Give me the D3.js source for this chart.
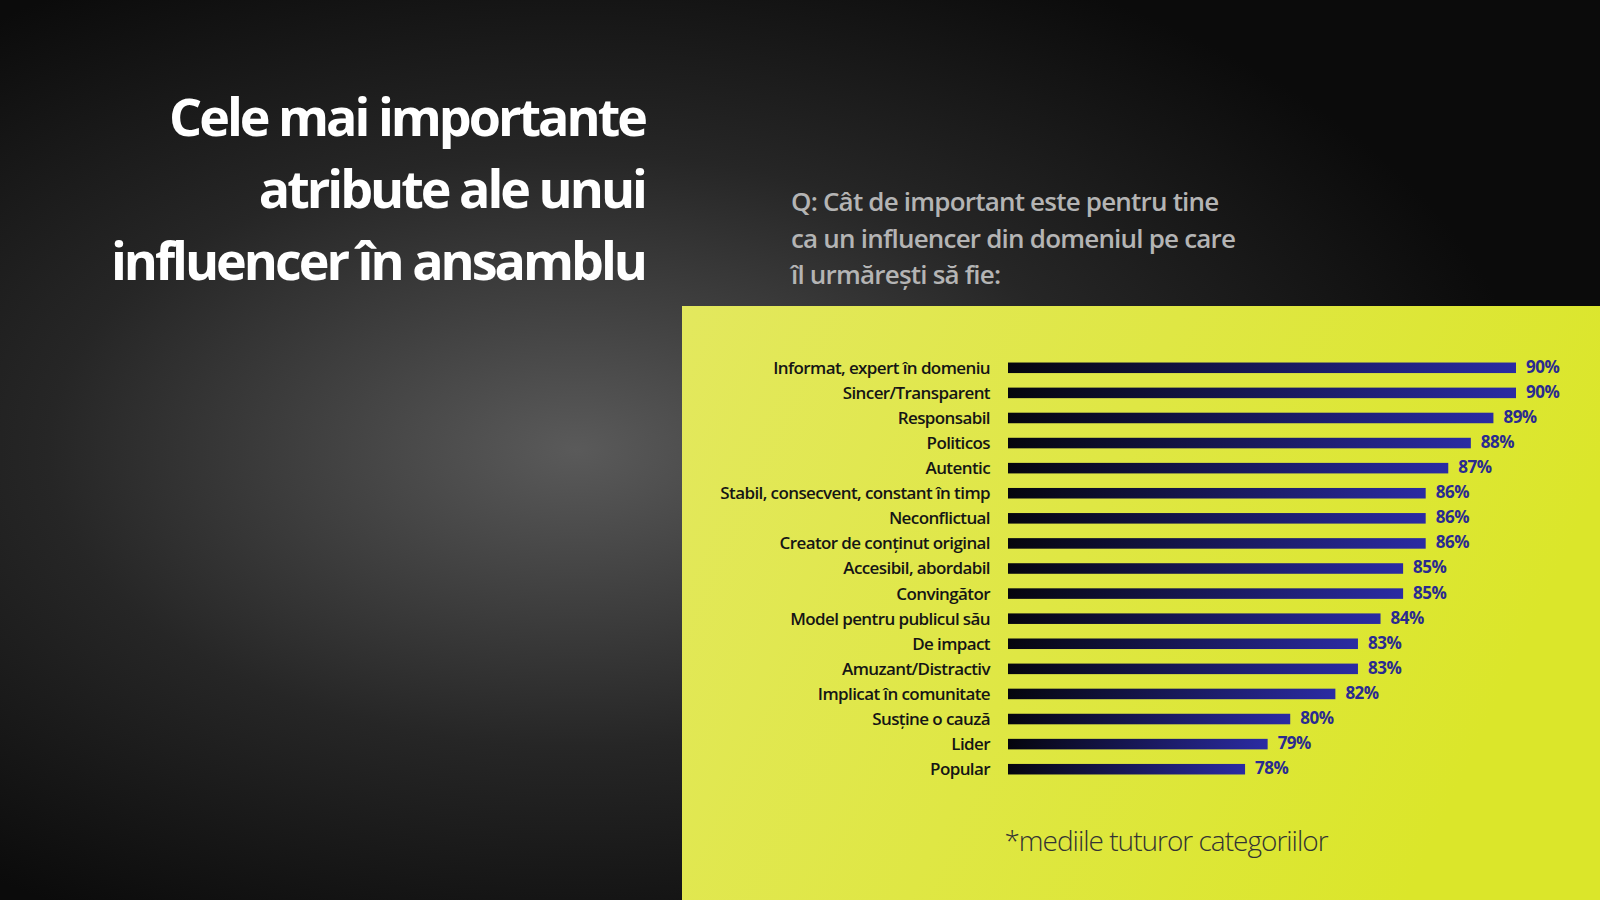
<!DOCTYPE html>
<html lang="ro">
<head>
<meta charset="utf-8">
<script src="https://d3js.org/d3.v7.min.js"></script>
<style>
  body { margin: 0; background: #111; overflow: hidden; }
  text { font-family: "Open Sans", "Noto Sans", sans-serif; }
</style>
</head>
<body>
<script>
var w = 1600, h = 900;

// data
var attributes = ["Informat, expert în domeniu", "Sincer/Transparent", "Responsabil", "Politicos",
  "Autentic", "Stabil, consecvent, constant în timp", "Neconflictual", "Creator de conținut original",
  "Accesibil, abordabil", "Convingător", "Model pentru publicul său", "De impact",
  "Amuzant/Distractiv", "Implicat în comunitate", "Susține o cauză", "Lider", "Popular"];
var values = [90, 90, 89, 88, 87, 86, 86, 86, 85, 85, 84, 83, 83, 82, 80, 79, 78];
var titleLines = ["Cele mai importante", "atribute ale unui", "influencer în ansamblu"];
var questionLines = ["Q: Cât de important este pentru tine", "ca un influencer din domeniul pe care", "îl urmărești să fie:"];

var svg = d3.select("body").append("svg").attr("width", w).attr("height", h);
var defs = svg.append("defs");

var bg = defs.append("radialGradient").attr("id", "bg")
  .attr("cx", 0.36).attr("cy", 0.5).attr("r", 0.6);
bg.append("stop").attr("offset", "0%").attr("stop-color", "#5a5a5a");
bg.append("stop").attr("offset", "55%").attr("stop-color", "#262626");
bg.append("stop").attr("offset", "100%").attr("stop-color", "#0b0b0b");

var yel = defs.append("linearGradient").attr("id", "yel").attr("x1", 0).attr("x2", 1).attr("y1", 0).attr("y2", 0.3);
yel.append("stop").attr("offset", "0%").attr("stop-color", "#e3e85e");
yel.append("stop").attr("offset", "100%").attr("stop-color", "#dbe62a");

var barG = defs.append("linearGradient").attr("id", "barG");
barG.append("stop").attr("offset", "0%").attr("stop-color", "#05050d");
barG.append("stop").attr("offset", "100%").attr("stop-color", "#2b2ba3");

svg.append("rect").attr("width", w).attr("height", h).attr("fill", "url(#bg)");
svg.append("rect").attr("x", 682).attr("y", 306).attr("width", w - 682).attr("height", h - 306).attr("fill", "url(#yel)");

// title
svg.append("g").selectAll("text").data(titleLines).join("text")
  .attr("x", 645).attr("y", function(d, i) { return 136 + i * 72; })
  .attr("text-anchor", "end").attr("fill", "#fff")
  .attr("font-size", 52).attr("font-weight", 700).attr("letter-spacing", -3)
  .text(function(d) { return d; });

svg.append("g").selectAll("text").data(questionLines).join("text")
  .attr("x", 791).attr("y", function(d, i) { return 211 + i * 36.5; })
  .attr("fill", "#b4b4b4").attr("font-size", 26).attr("font-weight", 600).attr("letter-spacing", -0.8)
  .text(function(d) { return d; });

// scales
var x = d3.scaleLinear().domain([67.5, 90]).range([1008, 1516]);
var y = d3.scaleBand().domain(attributes).range([355, 782]).paddingInner(0.58).paddingOuter(0.3);

var rows = svg.append("g").selectAll("g").data(attributes).join("g");
rows.append("rect")
  .attr("x", x(67.5)).attr("y", function(d) { return y(d); })
  .attr("height", y.bandwidth())
  .attr("width", function(d, i) { return x(values[i]) - x(67.5); })
  .attr("fill", "url(#barG)");
rows.append("text")
  .attr("x", 990).attr("y", function(d) { return y(d) + y.bandwidth() / 2; })
  .attr("dy", "0.35em").attr("text-anchor", "end")
  .attr("fill", "#151515").attr("font-size", 17).attr("font-weight", 600).attr("letter-spacing", -0.6)
  .text(function(d) { return d; });
rows.append("text")
  .attr("x", function(d, i) { return x(values[i]) + 10; })
  .attr("y", function(d) { return y(d) + y.bandwidth() / 2 - 1; })
  .attr("dy", "0.35em")
  .attr("fill", "#2a2a90").attr("font-size", 17).attr("font-weight", 700).attr("letter-spacing", -0.5)
  .text(function(d, i) { return values[i] + "%"; });

svg.append("text").attr("x", 1166).attr("y", 851).attr("text-anchor", "middle")
  .attr("fill", "#333").attr("font-size", 28).attr("font-weight", 300).attr("letter-spacing", -1)
  .text("*mediile tuturor categoriilor");
</script>
</body>
</html>
